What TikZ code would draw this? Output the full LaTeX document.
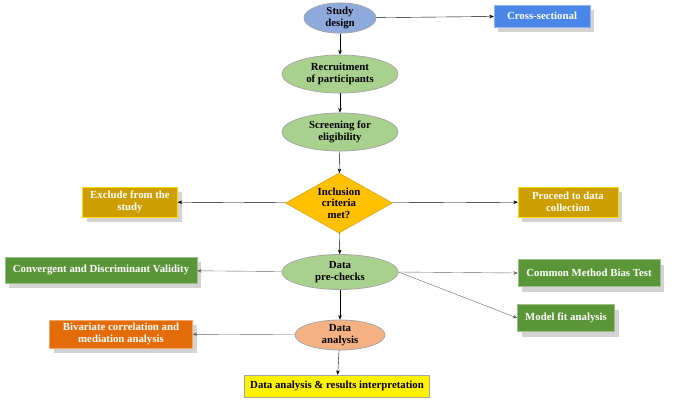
\documentclass[tikz,border=0pt]{standalone}
\usepackage{fontspec}
\setmainfont{Liberation Serif}
\usetikzlibrary{shapes.geometric,arrows.meta,shadows}

\definecolor{bluell}{HTML}{8EA9DB}
\definecolor{greenll}{HTML}{A9D18E}
\definecolor{orangell}{HTML}{F4B183}
\definecolor{goldd}{HTML}{FFC000}
\definecolor{goldbox}{HTML}{CC9E00}
\definecolor{bluebox}{HTML}{4A86E8}
\definecolor{greenbox}{HTML}{5A9638}
\definecolor{orangebox}{HTML}{E36C09}

\begin{document}
\begin{tikzpicture}[x=1pt,y=-1pt,
    font=\fontsize{10.8}{11.5}\selectfont\bfseries,
    oval/.style={ellipse,draw=gray!70,line width=0.8pt,align=center,inner sep=0pt},
    box/.style={rectangle,align=center,text=white,inner sep=0pt,
        drop shadow={shadow xshift=4pt,shadow yshift=-5pt,opacity=0.35}},
    arr/.style={-{Stealth[length=4.5pt,width=3.5pt]},thin},
    garr/.style={arr,gray!80!black}
]
    \useasboundingbox (0,0) rectangle (685,402);

    % main column
    \node[oval,fill=bluell,minimum width=72,minimum height=30] (design) at (340,18) {Study\\design};
    \node[oval,fill=greenll,minimum width=116,minimum height=38] (recruit) at (340,74) {Recruitment\\of participants};
    \node[oval,fill=greenll,minimum width=116,minimum height=38] (screen) at (340,132) {Screening for\\eligibility};
    \node[diamond,draw=goldd!80!black,fill=goldd,minimum width=107,minimum height=60,inner sep=0pt,
        align=center,aspect=1.8] (incl) at (339,203) {Inclusion\\criteria\\met?};
    \node[oval,fill=greenll,minimum width=116,minimum height=35] (prechk) at (340,272) {Data\\pre-checks};
    \node[oval,fill=orangell,minimum width=90,minimum height=30] (anal) at (340,335) {Data\\analysis};
    \node[rectangle,draw=gray!70,fill=yellow,minimum width=185,minimum height=22] (final) at (337,386)
        {Data analysis \& results interpretation};

    % side boxes
    \node[box,fill=bluebox,draw=bluebox!60!white,minimum width=96,minimum height=22] (cross) at (542,16) {Cross-sectional};
    \node[box,fill=goldbox,draw=yellow!80!orange,minimum width=95,minimum height=30] (excl) at (130,202) {Exclude from the\\study};
    \node[box,fill=goldbox,draw=yellow!80!orange,minimum width=100,minimum height=30] (proc) at (568,202) {Proceed to data\\collection};
    \node[box,fill=greenbox,draw=greenbox!60!white,minimum width=192,minimum height=26] (valid) at (101,270) {Convergent and Discriminant Validity};
    \node[box,fill=greenbox,draw=greenbox!60!white,minimum width=142,minimum height=27] (cmb) at (589,273) {Common Method Bias Test};
    \node[box,fill=greenbox,draw=greenbox!60!white,minimum width=97,minimum height=27] (fit) at (566,318) {Model fit analysis};
    \node[box,fill=orangebox,draw=orangebox!60!white,minimum width=143,minimum height=28] (bivar) at (121,334) {Bivariate correlation and\\mediation analysis};

    % connectors
    \draw[arr] (design) -- (cross);
    \draw[arr] (design) -- (recruit);
    \draw[arr] (recruit) -- (screen);
    \draw[arr] (screen) -- (incl);
    \draw[arr] (incl) -- (excl);
    \draw[arr] (incl) -- (proc);
    \draw[arr] (incl) -- (prechk);
    \draw[garr] (prechk) -- (valid);
    \draw[garr] (prechk.east) -- (cmb.west);
    \draw[garr] (prechk.east) -- (fit.west);
    \draw[arr] (prechk) -- (anal);
    \draw[garr] (anal) -- (bivar);
    \draw[arr] (anal) -- (final);
\end{tikzpicture}
\end{document}
